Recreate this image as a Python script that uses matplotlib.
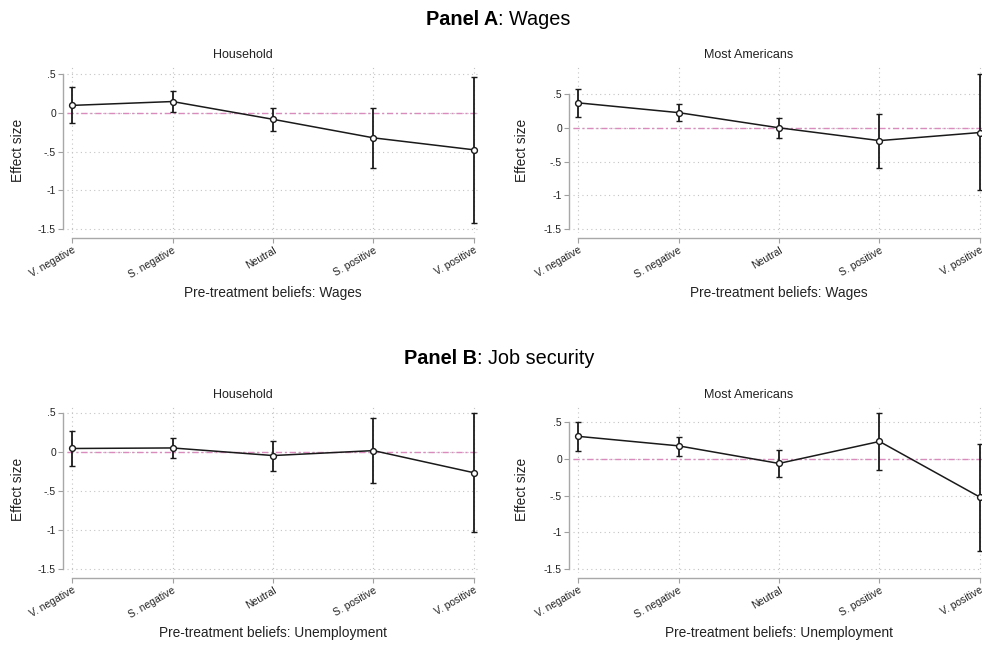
import numpy as np
import matplotlib
matplotlib.use("Agg")
import matplotlib.pyplot as plt

plt.rcParams["font.family"] = ["Liberation Sans", "DejaVu Sans"]

categories = ["V. negative", "S. negative", "Neutral", "S. positive", "V. positive"]
y_ticks = [-1.5, -1, -0.5, 0, 0.5]
y_tick_labels = ["-1.5", "-1", "-.5", "0", ".5"]

# Panel A: wages
wages_household = [0.10, 0.15, -0.08, -0.32, -0.475]
wages_household_lo = [-0.13, 0.02, -0.23, -0.705, -1.42]
wages_household_hi = [0.34, 0.28, 0.065, 0.065, 0.47]

wages_americans = [0.37, 0.225, 0.0, -0.19, -0.07]
wages_americans_lo = [0.16, 0.10, -0.15, -0.59, -0.92]
wages_americans_hi = [0.58, 0.36, 0.15, 0.20, 0.79]

# Panel B: job security
jobs_household = [0.04, 0.047, -0.05, 0.013, -0.27]
jobs_household_lo = [-0.18, -0.08, -0.245, -0.40, -1.03]
jobs_household_hi = [0.26, 0.17, 0.14, 0.435, 0.49]

jobs_americans = [0.31, 0.18, -0.06, 0.24, -0.52]
jobs_americans_lo = [0.115, 0.045, -0.25, -0.15, -1.255]
jobs_americans_hi = [0.505, 0.30, 0.13, 0.635, 0.21]

W, H = 982, 646
fig = plt.figure(figsize=(W / 100, H / 100), dpi=100)


def px_box(l, t, r, b):
    return [l / W, 1 - b / H, (r - l) / W, (b - t) / H]


def draw_panel(box, title, title_x, title_base, xlabel, xlabel_base,
               ylabel_x, est, lo, hi):
    l, t, r, b = box
    ax = fig.add_axes(px_box(l, t, r, b))
    est, lo, hi = np.array(est), np.array(lo), np.array(hi)
    x = np.arange(len(categories))

    ax.axhline(0, color="#d98bbd", lw=1.0, dashes=(4.5, 2, 1.5, 2), zorder=2)
    ax.errorbar(x, est, yerr=[est - lo, hi - est], fmt="-o", color="#1a1a1a",
                lw=1.1, ms=4.2, mfc="white", mec="#1a1a1a", mew=1.0,
                elinewidth=1.3, capsize=2, capthick=1.2, zorder=3)

    # y range: from -1.5 to top of data, fixed pixel margins like Stata
    top = max(0.5, hi.max())
    scale = ((b - t) - 11.5) / (top + 1.5)
    ax.set_ylim(-1.5 - 4 / scale, top + 7.5 / scale)
    ax.set_xlim(-0.05, 4.05)

    # spines first: set_position resets the ticks
    for side in ["top", "right"]:
        ax.spines[side].set_visible(False)
    for side in ["left", "bottom"]:
        ax.spines[side].set_color("#a8a8a8")
        ax.spines[side].set_linewidth(1.0)
    ax.spines["left"].set_position(("outward", 2.9))
    ax.spines["bottom"].set_position(("outward", 3.6))
    ax.spines["left"].set_bounds(-1.5, 0.5)
    ax.spines["bottom"].set_bounds(0, 4)

    ax.set_xticks(x)
    ax.set_xticklabels(categories)
    ax.set_yticks(y_ticks)
    ax.set_yticklabels(y_tick_labels)
    ax.tick_params(direction="out", length=3.6, width=0.8, color="#a0a0a0",
                   labelsize=7.5, pad=1.5, labelcolor="#222222")
    ax.tick_params(axis="x", labelrotation=30)
    for lab in ax.get_xticklabels():
        lab.set_ha("right")
        lab.set_rotation_mode("anchor")

    ax.grid(True, color="#c4c4c4", ls=(0, (1, 3)), lw=0.8, zorder=0)

    pw, ph = r - l, b - t
    ax.set_title(title, fontsize=9, color="#222222",
                 x=(title_x - l) / pw, y=(b - title_base) / ph,
                 va="baseline", pad=0)
    ax.set_xlabel(xlabel, fontsize=9.9, color="#222222", va="baseline")
    ax.xaxis.set_label_coords(0.5, (b - xlabel_base) / ph)
    ax.set_ylabel("Effect size", fontsize=9.9, color="#222222", va="center")
    ax.yaxis.set_label_coords((ylabel_x - l) / pw, 0.5)
    return ax


def panel_title(bold, rest, xc, base):
    rend = fig.canvas.get_renderer()
    t1 = fig.text(0, 1 - base / H, bold, weight="bold", size=14.3, va="baseline")
    t2 = fig.text(0, 1 - base / H, rest, size=14.3, va="baseline")
    w1 = t1.get_window_extent(rend).width
    w2 = t2.get_window_extent(rend).width
    x0 = xc - (w1 + w2) / 2
    t1.set_x(x0 / W)
    t2.set_x((x0 + w1) / W)


draw_panel((67, 67, 479, 233), "Household", 243, 58.3,
           "Pre-treatment beliefs: Wages", 297.5, 17.5,
           wages_household, wages_household_lo, wages_household_hi)
draw_panel((573, 67, 985, 233), "Most Americans", 748.5, 58.3,
           "Pre-treatment beliefs: Wages", 297.5, 522,
           wages_americans, wages_americans_lo, wages_americans_hi)
draw_panel((67, 405, 479, 573), "Household", 243, 398.3,
           "Pre-treatment beliefs: Unemployment", 636.5, 17.5,
           jobs_household, jobs_household_lo, jobs_household_hi)
draw_panel((573, 405, 985, 573), "Most Americans", 748.5, 398.3,
           "Pre-treatment beliefs: Unemployment", 636.5, 522,
           jobs_americans, jobs_americans_lo, jobs_americans_hi)

panel_title("Panel A", ": Wages", 498, 25)
panel_title("Panel B", ": Job security", 499, 364)

fig.savefig("out.png", dpi=100)
